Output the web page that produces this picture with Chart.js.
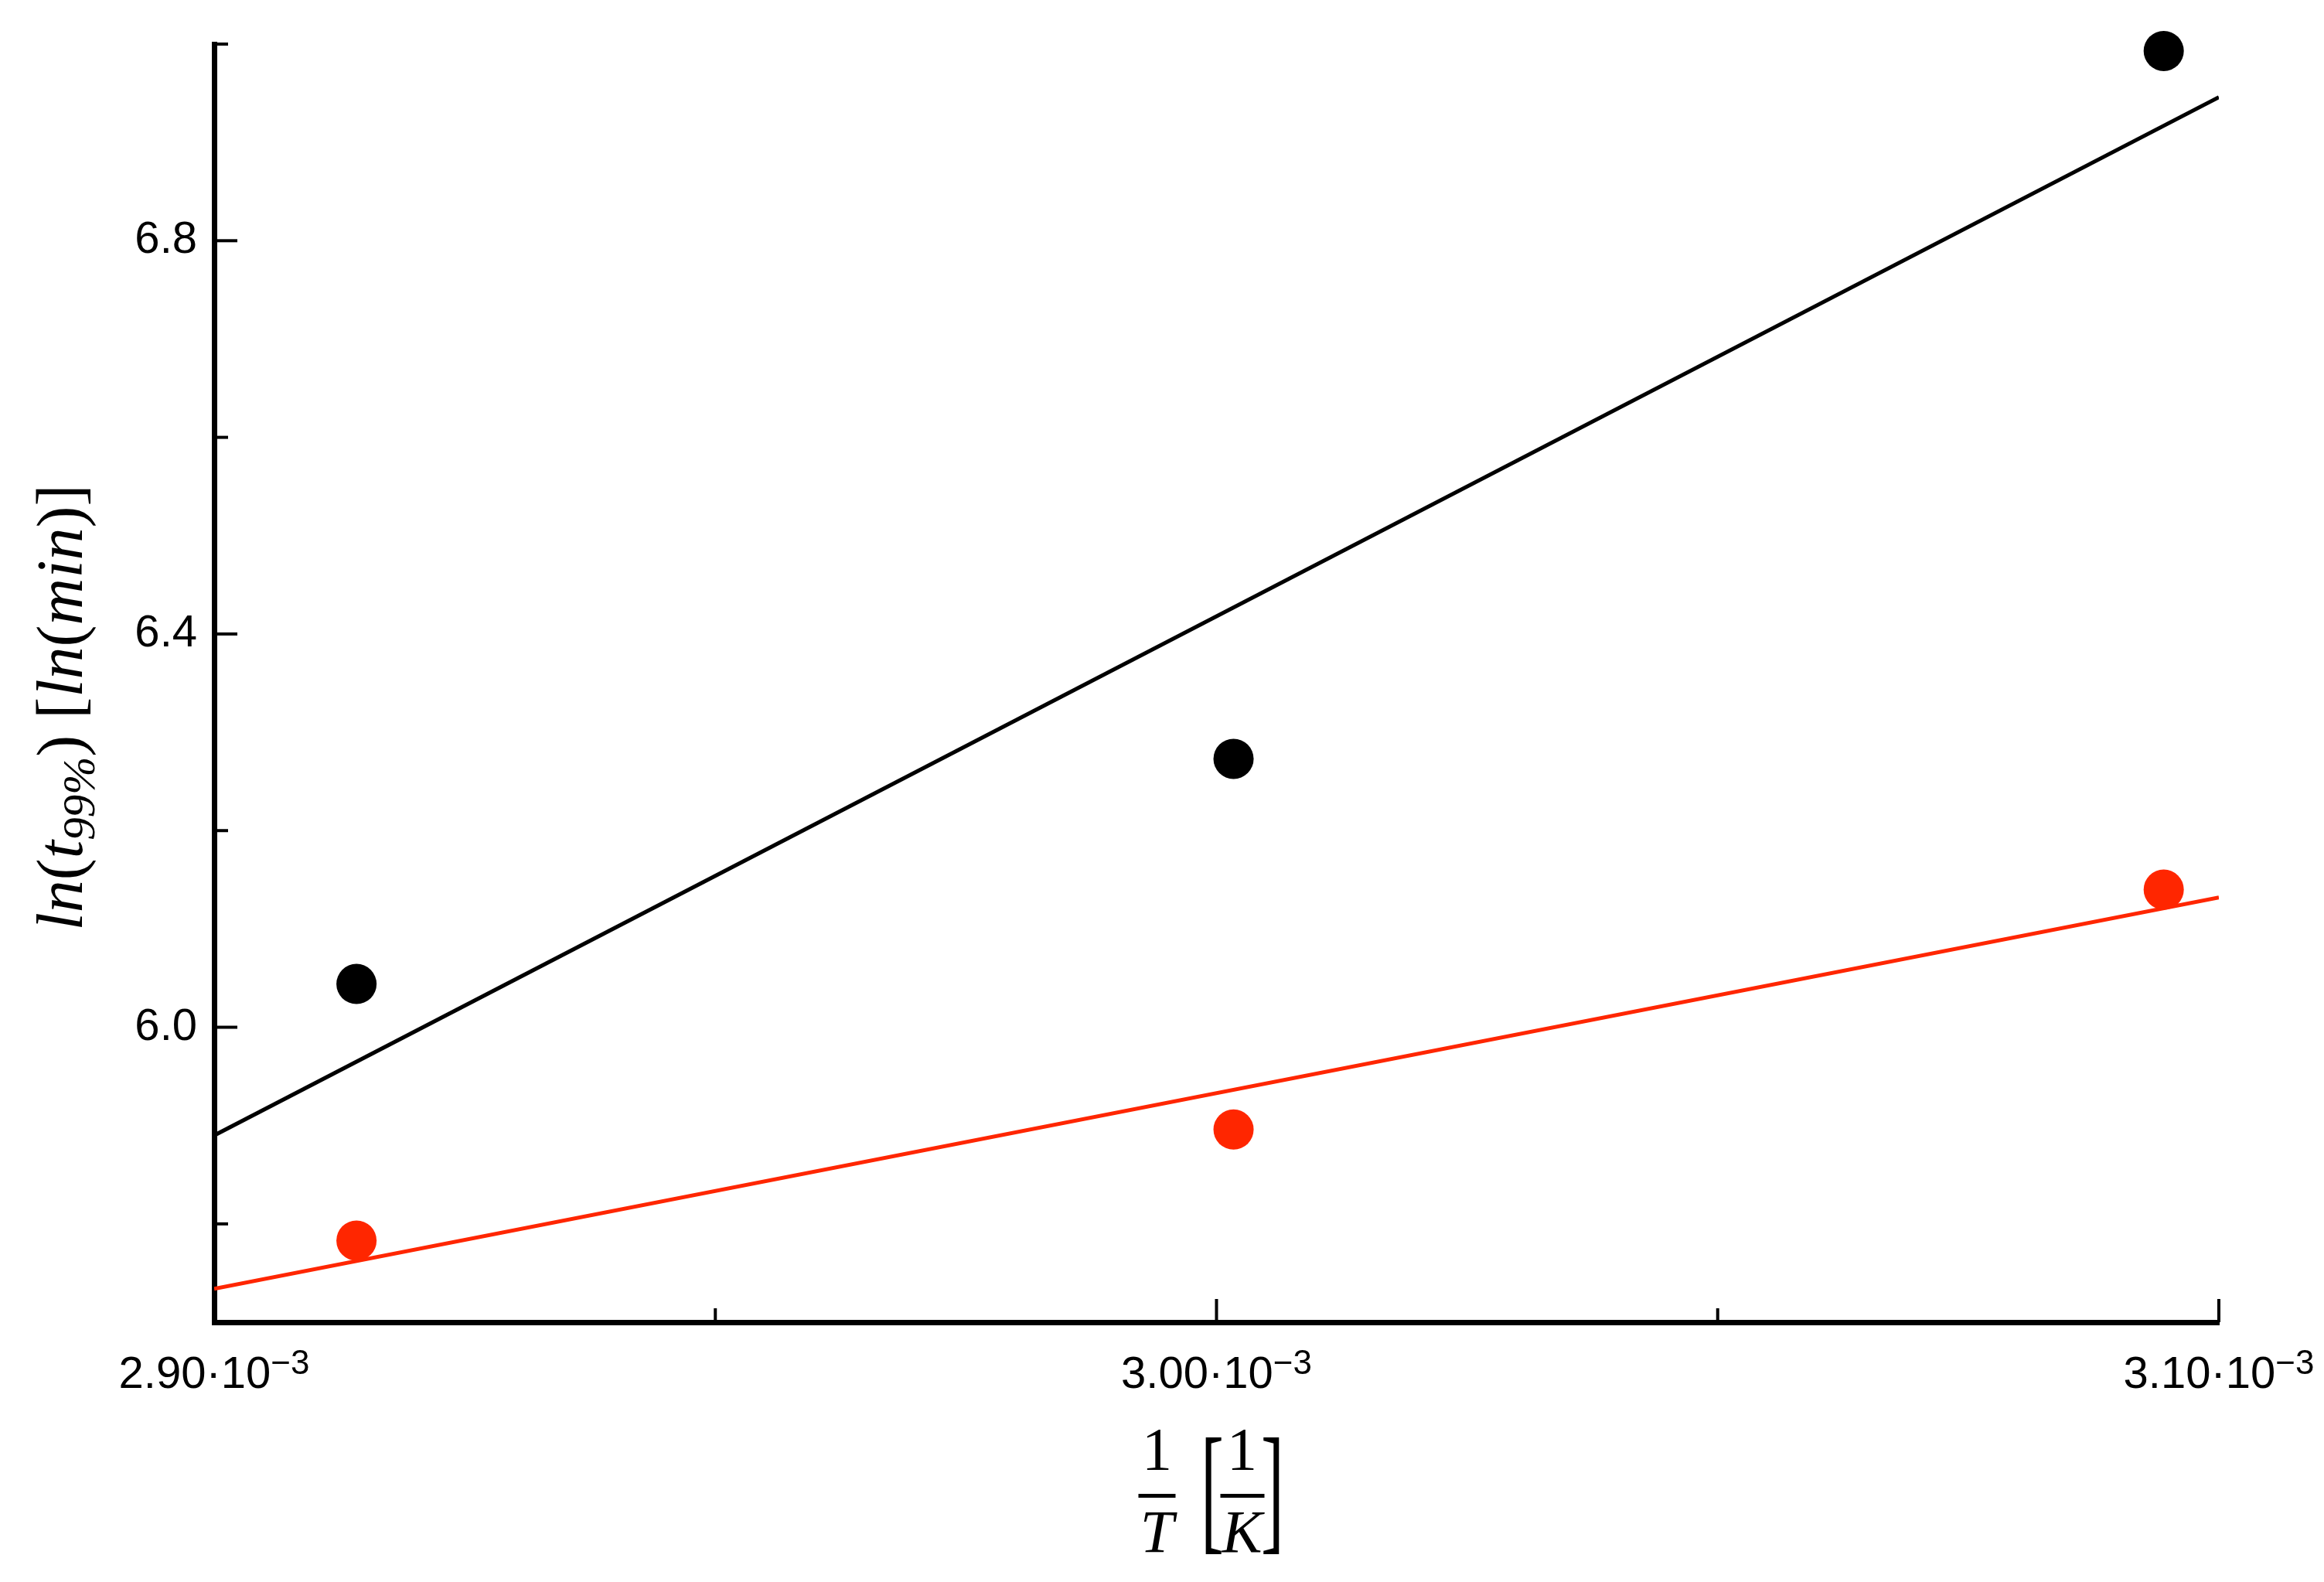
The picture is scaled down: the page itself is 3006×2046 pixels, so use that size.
<!DOCTYPE html>
<html>
<head>
<meta charset="utf-8">
<script src="https://cdn.jsdelivr.net/npm/chart.js@4.4.1/dist/chart.umd.min.js"></script>
<style>
  html, body { margin: 0; padding: 0; background: #fff; }
  canvas { display: block; }
</style>
</head>
<body>
<canvas id="chart" width="3006" height="2046"></canvas>
<script>
// measured points, 1/T in 1/K
const xValues = [0.0029142, 0.0030017, 0.0030945];
const seriesBlack = [6.044, 6.273, 6.993];
const seriesRed = [5.783, 5.896, 6.140];

// fitted lines, read at both ends of the x range
const fitX = [0.00290, 0.00310];
const fitBlack = [5.890, 6.946];
const fitRed = [5.734, 6.132];

const xTicks = [0.00290, 0.00295, 0.00300, 0.00305, 0.00310];
const xTickLabels = ['2.90', '', '3.00', '', '3.10'];
const yTicks = [5.8, 6.0, 6.2, 6.4, 6.6, 6.8, 7.0];
const yTickLabels = ['', '6.0', '', '6.4', '', '6.8', ''];

const RED = 'rgb(255, 38, 0)';
const SANS = '"Liberation Sans", Arial, sans-serif';
const SERIF = '"Liberation Serif", "Times New Roman", serif';

const toPoints = (xs, ys) => xs.map((x, i) => ({ x: x, y: ys[i] }));

// inward ticks, x labels with exponent, axis titles
const axisDecor = {
    id: 'axisDecor',
    afterDraw(chart) {
        const { ctx, chartArea: a } = chart;
        const x = chart.scales.x;
        const y = chart.scales.y;
        ctx.save();
        ctx.strokeStyle = '#000';
        ctx.fillStyle = '#000';
        ctx.lineWidth = 4;

        yTicks.forEach((v, i) => {
            const py = y.getPixelForValue(v);
            const len = yTickLabels[i] ? 30 : 18;
            ctx.beginPath();
            ctx.moveTo(a.left, py);
            ctx.lineTo(a.left + len, py);
            ctx.stroke();
        });
        xTicks.forEach((v, i) => {
            if (i === 0) return;
            const px = x.getPixelForValue(v);
            const len = xTickLabels[i] ? 30 : 18;
            ctx.beginPath();
            ctx.moveTo(px, a.bottom);
            ctx.lineTo(px, a.bottom - len);
            ctx.stroke();
        });

        // x tick labels: "2.90·10" with superscript "−3"
        ctx.textAlign = 'left';
        ctx.textBaseline = 'alphabetic';
        xTicks.forEach((v, i) => {
            if (!xTickLabels[i]) return;
            const px = x.getPixelForValue(v);
            const main = xTickLabels[i] + '\u00B710';
            const sup = '\u22123';
            ctx.font = '58px ' + SANS;
            const wMain = ctx.measureText(main).width;
            ctx.font = '44px ' + SANS;
            const wSup = ctx.measureText(sup).width;
            const start = px - (wMain + wSup) / 2;
            ctx.font = '58px ' + SANS;
            ctx.fillText(main, start, a.bottom + 85);
            ctx.font = '44px ' + SANS;
            ctx.fillText(sup, start + wMain, a.bottom + 67);
        });

        // y title: ln(t99%) [ln(min)]
        const parts = [
            ['ln', 'i'], ['(', 'n'], ['t', 'i'], ['99%', 's'], [')', 'n'], [' ', 'n'],
            ['[', 'n'], ['ln', 'i'], ['(', 'n'], ['min', 'i'], [')', 'n'], [']', 'n']
        ];
        const fs = 84;
        const fontOf = k => k === 'i' ? 'italic ' + fs + 'px ' + SERIF
            : k === 's' ? 'italic ' + Math.round(fs * 0.7) + 'px ' + SERIF
            : fs + 'px ' + SERIF;
        let total = 0;
        parts.forEach(p => { ctx.font = fontOf(p[1]); total += ctx.measureText(p[0]).width; });
        ctx.save();
        ctx.translate(106, 915);
        ctx.rotate(-Math.PI / 2);
        let cx = -total / 2;
        parts.forEach(p => {
            ctx.font = fontOf(p[1]);
            ctx.fillText(p[0], cx, p[1] === 's' ? 16 : 0);
            cx += ctx.measureText(p[0]).width;
        });
        ctx.restore();

        // x title: 1/T [1/K]
        const mid = (a.left + a.right) / 2;
        const numBase = a.bottom + 190;
        const denBase = a.bottom + 297;
        const barY = a.bottom + 222;
        ctx.textAlign = 'center';
        ctx.font = '78px ' + SERIF;
        ctx.fillText('1', mid - 77, numBase);
        ctx.fillText('1', mid + 33, numBase);
        ctx.font = 'italic 78px ' + SERIF;
        ctx.fillText('T', mid - 77, denBase);
        ctx.fillText('K', mid + 33, denBase);
        ctx.fillRect(mid - 101, barY, 48, 5);
        ctx.fillRect(mid + 5, barY, 57, 5);

        // tall brackets around 1/K
        ctx.textAlign = 'left';
        ctx.font = '150px ' + SERIF;
        const top = a.bottom + 148;
        const bot = a.bottom + 300;
        [['[', mid - 14], [']', mid + 81]].forEach(b => {
            const m = ctx.measureText(b[0]);
            const sy = (bot - top) / (m.actualBoundingBoxAscent + m.actualBoundingBoxDescent);
            ctx.save();
            ctx.translate(b[1], top + m.actualBoundingBoxAscent * sy);
            ctx.scale(0.6, sy);
            const dx = b[0] === '[' ? m.actualBoundingBoxLeft : -m.actualBoundingBoxRight;
            ctx.fillText(b[0], dx, 0);
            ctx.restore();
        });
        ctx.restore();
    }
};

new Chart(document.getElementById('chart'), {
    type: 'scatter',
    data: {
        datasets: [
            {
                data: toPoints(xValues, seriesBlack),
                backgroundColor: '#000',
                borderWidth: 0,
                pointRadius: 26,
                clip: false,
                order: 0
            },
            {
                data: toPoints(xValues, seriesRed),
                backgroundColor: RED,
                borderWidth: 0,
                pointRadius: 26,
                clip: false,
                order: 1
            },
            {
                data: toPoints(fitX, fitBlack),
                showLine: true,
                borderColor: '#000',
                borderWidth: 5,
                pointRadius: 0,
                order: 2
            },
            {
                data: toPoints(fitX, fitRed),
                showLine: true,
                borderColor: RED,
                borderWidth: 5,
                pointRadius: 0,
                order: 3
            }
        ]
    },
    options: {
        responsive: false,
        devicePixelRatio: 1,
        animation: false,
        layout: { padding: { left: 0, right: 136, top: 57, bottom: 0 } },
        plugins: {
            legend: { display: false },
            tooltip: { enabled: false }
        },
        scales: {
            x: {
                type: 'linear',
                min: 0.0029,
                max: 0.0031,
                grid: { display: false, drawTicks: false },
                border: { display: true, color: '#000', width: 7 },
                ticks: { display: false },
                afterBuildTicks: s => { s.ticks = xTicks.map(v => ({ value: v })); },
                afterFit: s => { s.height = 336; }
            },
            y: {
                type: 'linear',
                min: 5.7,
                max: 7.0,
                grid: { display: false, drawTicks: false },
                border: { display: true, color: '#000', width: 7 },
                ticks: {
                    padding: 22,
                    color: '#000',
                    font: { size: 58, family: SANS },
                    callback: (v, i) => yTickLabels[i]
                },
                afterBuildTicks: s => { s.ticks = yTicks.map(v => ({ value: v })); },
                afterFit: s => { s.width = 277; }
            }
        }
    },
    plugins: [axisDecor]
});
</script>
</body>
</html>
